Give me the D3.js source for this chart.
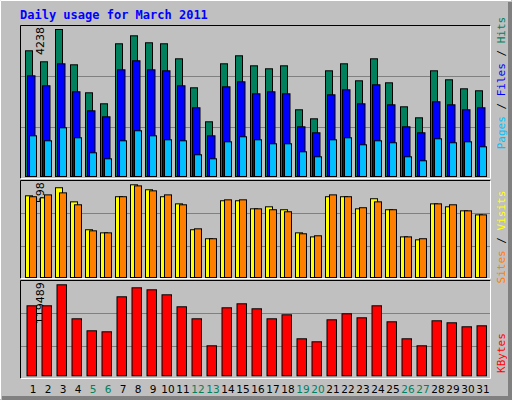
<!DOCTYPE html><html><head><meta charset="utf-8">
<script src="https://cdn.jsdelivr.net/npm/d3@7"></script>
<style>body{margin:0;background:#fff}</style></head><body>
<script>
const days=d3.range(1,32);
const weekend=[5,6,12,13,19,20,26,27];
const hits=[3624,3307,4238,3220,2413,2096,3826,4056,3855,3826,3393,2557,1577,3249,3480,3191,3105,3191,1923,1663,3047,3249,2759,3393,2701,2009,1692,3047,2788,2528,2471];
const files=[2903,2615,3249,2442,1894,1721,3076,3336,3076,3047,2615,1981,1173,2586,2730,2384,2442,2384,1433,1260,2355,2499,2096,2644,2067,1433,1260,2154,2067,1923,1981];
const pages=[1173,1029,1404,1116,683,510,1029,1318,1173,1058,1029,626,510,1000,1145,1058,943,943,712,568,1058,1116,914,1029,972,568,453,1087,972,1000,856];
const visits=[527,514,579,488,308,288,521,598,566,521,475,308,250,495,495,443,456,437,288,262,521,521,443,508,437,262,243,475,456,430,404];
const sites=[521,533,546,469,301,288,521,591,559,533,469,314,250,501,501,443,437,424,282,269,533,521,450,488,437,262,250,475,469,430,404];
const kbytes=[91910,91910,119489,74840,59085,57770,103730,115540,112920,106350,90600,74840,39390,89280,94540,87970,74840,80090,48580,44640,73530,81410,76150,91910,70900,48580,39390,72220,69590,64340,65650];

const svg=d3.select("body").append("svg").attr("width",512).attr("height",400);
svg.append("rect").attr("width",512).attr("height",400).attr("fill","#C0C0C0");
svg.append("path").attr("d","M0.5,399V0.5H511").attr("stroke","#fff").attr("fill","none");
svg.append("rect").attr("x",508).attr("y",2).attr("width",4).attr("height",398).attr("fill","#808080");
svg.append("rect").attr("x",2).attr("y",396).attr("width",510).attr("height",4).attr("fill","#808080");
svg.append("text").attr("x",20).attr("y",19).text("Daily usage for March 2011")
 .attr("font-family","DejaVu Sans Mono").attr("font-weight","bold").attr("font-size",12).attr("fill","#0000FF");

const x=d3.scaleLinear().domain([1,31]).range([25,475]);
const panels=[{t:25,b:178,base:176,top:29,max:4238},{t:180,b:278,base:277,top:184.3,max:598},{t:280,b:378,base:375.3,top:284.3,max:119489}];
function panel(p,grid){
  svg.append("rect").attr("x",20.5).attr("y",p.t+0.5).attr("width",470).attr("height",p.b-p.t).attr("fill","#C0C0C0");
  grid.forEach(g=>svg.append("line").attr("x1",21).attr("x2",490).attr("y1",g).attr("y2",g).attr("stroke","#808080"));
  svg.append("path").attr("d",`M20.5,${p.b+0.5}V${p.t+0.5}H490.5`).attr("stroke","#000").attr("fill","none");
  svg.append("path").attr("d",`M490.5,${p.t+0.5}V${p.b+0.5}H20.5`).attr("stroke","#fff").attr("fill","none");
  p.y=d3.scaleLinear().domain([0,p.max]).range([p.base,p.top]);
  svg.append("text").attr("transform",`translate(44,${p.top-2}) rotate(-90)`).attr("text-anchor","end")
   .attr("font-family","DejaVu Sans").attr("font-size",11).text(p.max);
}
function bars(p,data,dx,w,color){
  svg.append("g").selectAll("rect").data(data).join("rect")
   .attr("x",(d,i)=>x(days[i])+dx+0.5).attr("y",d=>p.y(d)+0.5).attr("width",w).attr("height",d=>p.base-p.y(d))
   .attr("fill",color).attr("stroke","#000");
}
panel(panels[0],[76.5,127.5]);
bars(panels[0],hits,0,7,"#00805C");
bars(panels[0],files,2,7.5,"#0000FF");
bars(panels[0],pages,4,7,"#00C0FF");
panel(panels[1],[213.5,246.5]);
bars(panels[1],visits,0,7,"#FFFF00");
bars(panels[1],sites,4,7,"#FF8000");
panel(panels[2],[313.5,346.5]);
bars(panels[2],kbytes,1.5,9.5,"#FF0000");

svg.append("g").selectAll("text").data(days).join("text")
 .attr("x",d=>x(d)+8).attr("y",393).attr("text-anchor","middle")
 .attr("font-family","DejaVu Sans").attr("font-size",10.5)
 .attr("fill",d=>weekend.includes(d)?"#00805C":"#000").text(d=>d);

function side(cy,parts){
  const t=svg.append("text").attr("transform",`translate(505,${cy}) rotate(-90)`).attr("text-anchor","middle")
   .attr("font-family","DejaVu Sans Mono").attr("font-size",11);
  parts.forEach(([s,c])=>t.append("tspan").attr("fill",c).text(s));
}
side(83,[["Pages","#00C0FF"],[" / ","#000"],["Files","#0000FF"],[" / ","#000"],["Hits","#00805C"]]);
side(237,[["Sites","#FF8000"],[" / ","#000"],["Visits","#FFFF00"]]);
side(353,[["KBytes","#FF0000"]]);
</script></body></html>
